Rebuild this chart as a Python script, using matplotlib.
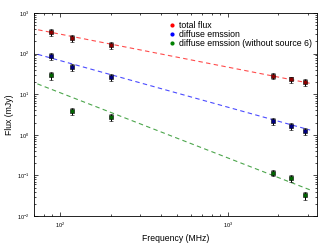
import matplotlib
matplotlib.use("Agg")
import matplotlib.pyplot as plt
import numpy as np

plt.rcParams["font.family"] = ["Liberation Sans", "DejaVu Sans"]
plt.rcParams["mathtext.default"] = "regular"

freq = np.array([88, 118, 200, 1855, 2375, 2900])

total_flux = np.array([334, 242, 163, 28.6, 23.3, 19.6])
total_err = np.array([65, 45, 30, 5, 4, 3.5])

diffuse = np.array([87, 46, 26, 2.15, 1.65, 1.26])
diffuse_err = np.array([18, 9, 5, 0.4, 0.3, 0.25])

diffuse_no6 = np.array([29, 3.9, 2.7, 0.117, 0.085, 0.032])
diffuse_no6_err = np.array([6, 0.8, 0.5, 0.02, 0.016, 0.007])

# power-law fits: flux at 1 GHz (mJy) and spectral index
fit_s1000 = [46.5, 4.8, 0.27]
fit_alpha = [-0.813, -1.148, -1.606]

labels = ["total flux", "diffuse emssion", "diffuse emssion (without source 6)"]
colors = ["red", "blue", "green"]
mcolors = ["darkred", "navy", "darkgreen"]

fig = plt.figure(figsize=(3.25, 2.46), dpi=100)
ax = fig.add_axes([0.105, 0.122, 0.87, 0.825])

fx = np.logspace(np.log10(60), np.log10(3100), 50)
series = [(total_flux, total_err), (diffuse, diffuse_err), (diffuse_no6, diffuse_no6_err)]
for i, (vals, errs) in enumerate(series):
    ax.plot(fx, fit_s1000[i] * (fx / 1000.0) ** fit_alpha[i], "--", color=colors[i],
            lw=0.8, alpha=0.7, dashes=(4, 3))
    ax.errorbar(freq, vals, yerr=errs, fmt="s", ms=2.7, color=mcolors[i], mec="k", mew=0.4,
                ecolor="k", elinewidth=0.7, capsize=1.5, capthick=0.7)
    ax.plot([], [], "o", ms=2, color=colors[i], label=labels[i])

ax.set_xscale("log")
ax.set_yscale("log")
ax.set_xlim(70, 3400)
ax.set_ylim(1e-2, 1e3)
ax.set_xlabel("Frequency (MHz)", fontsize=6.2, labelpad=2.5)
ax.set_ylabel("Flux (mJy)", fontsize=6.2, labelpad=2)
ax.tick_params(which="both", direction="in", top=True, right=True, labelsize=4, width=0.5)
ax.tick_params(which="major", length=3)
ax.tick_params(which="minor", length=1.5)
for s in ax.spines.values():
    s.set_linewidth(0.6)

ax.legend(loc="upper right", bbox_to_anchor=(1.0, 0.985), fontsize=6.3, frameon=False,
          handlelength=0.6, handletextpad=0.5, labelspacing=0.0, borderaxespad=0.2, numpoints=1)

fig.savefig("out.png", dpi=100)
